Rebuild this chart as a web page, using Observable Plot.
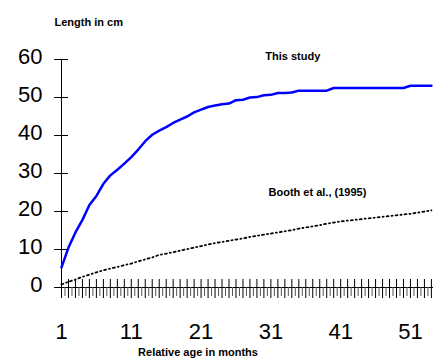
<!DOCTYPE html>
<html>
<head>
<meta charset="utf-8">
<script src="https://cdn.jsdelivr.net/npm/d3@7"></script>
<script src="https://cdn.jsdelivr.net/npm/@observablehq/plot@0.6"></script>
<style>
  html, body { margin: 0; padding: 0; background: #fff; }
  #chart svg { display: block; }
</style>
</head>
<body>
<div id="chart"></div>
<script>
const months = d3.range(1, 55);
const thisStudy = [5.3, 10.5, 14.5, 17.8, 21.7, 24.1, 27.3, 29.5, 31.0, 32.6,
  34.3, 36.3, 38.5, 40.2, 41.3, 42.2, 43.3, 44.2, 45.0, 46.1,
  46.8, 47.5, 47.9, 48.2, 48.4, 49.3, 49.4, 50.0, 50.1, 50.6,
  50.7, 51.2, 51.2, 51.3, 51.8, 51.8, 51.8, 51.8, 51.8, 52.5,
  52.5, 52.5, 52.5, 52.5, 52.5, 52.5, 52.5, 52.5, 52.5, 52.5,
  53.1, 53.1, 53.1, 53.1];
const booth = [0.8, 1.5, 2.1, 2.8, 3.4, 4.0, 4.5, 5.0, 5.4, 5.9,
  6.3, 6.9, 7.4, 7.9, 8.6, 8.9, 9.3, 9.7, 10.1, 10.5,
  10.9, 11.3, 11.7, 12.0, 12.3, 12.6, 12.9, 13.3, 13.6, 13.9,
  14.2, 14.5, 14.8, 15.1, 15.5, 15.8, 16.1, 16.4, 16.8, 17.1,
  17.4, 17.6, 17.8, 18.0, 18.2, 18.4, 18.6, 18.8, 19.0, 19.2,
  19.4, 19.7, 20.0, 20.3];
const yTicks = [0, 10, 20, 30, 40, 50, 60];
const xTickLabels = [1, 11, 21, 31, 41, 51];
const halfMonths = months.map(m => m + 0.5).filter(m => m < 54.3);

const studyData = months.map((m, i) => ({month: m, length: thisStudy[i]}));
const boothData = months.map((m, i) => ({month: m, length: booth[i]}));

const chart = Plot.plot({
  width: 435,
  height: 358,
  marginLeft: 61,
  marginRight: 2,
  marginTop: 59,
  marginBottom: 71,
  style: {fontFamily: "'Liberation Sans', Arial, sans-serif", background: "#fff", color: "#000"},
  x: {domain: [1, 54.3], label: null},
  y: {domain: [0, 60], label: null},
  marks: [
    // y axis line and crossing ticks
    Plot.ruleX([1], {stroke: "#000"}),
    Plot.axisY({ticks: yTicks, tickSize: 14, dx: 7, text: null, label: null, stroke: "#000"}),
    Plot.axisY({ticks: yTicks, tickSize: 0, tickPadding: 19, dy: -3, fontSize: 22, label: null, fill: "#000"}),
    // x axis line and ticks
    Plot.ruleY([0], {stroke: "#000"}),
    Plot.axisX({ticks: months, tickSize: 19, dy: -8, text: null, label: null, stroke: "#000"}),
    Plot.axisX({ticks: halfMonths, tickSize: 9, text: null, label: null, stroke: "#555"}),
    Plot.axisX({ticks: xTickLabels, tickSize: 0, tickPadding: 36, fontSize: 22, label: null, fill: "#000"}),
    // series
    Plot.line(boothData, {x: "month", y: "length", stroke: "#000", strokeWidth: 1.8, strokeDasharray: "2 3 1 3"}),
    Plot.line(studyData, {x: "month", y: "length", stroke: "#0000ff", strokeWidth: 2.5}),
    // annotations
    Plot.text(["This study"], {x: 30.2, y: 60, text: d => d, textAnchor: "start", lineAnchor: "bottom", fontSize: 11, fontWeight: "bold", fill: "#000", letterSpacing: "0.4px"}),
    Plot.text(["Booth et al., (1995)"], {x: 30.66, y: 23.95, text: d => d, textAnchor: "start", lineAnchor: "bottom", fontSize: 11, fontWeight: "bold", fill: "#000", letterSpacing: "0.5px"}),
    // axis titles
    Plot.text(["Length in cm"], {frameAnchor: "top-left", text: d => d, dx: -7, dy: -34, textAnchor: "start", lineAnchor: "bottom", fontSize: 11, fontWeight: "bold", fill: "#000", letterSpacing: "0.5px"}),
    Plot.text(["Relative age in months"], {frameAnchor: "bottom", text: d => d, dx: -49.5, dy: 68, textAnchor: "middle", lineAnchor: "bottom", fontSize: 11, fontWeight: "bold", fill: "#000", letterSpacing: "0.5px"})
  ]
});
document.getElementById("chart").appendChild(chart);
</script>
</body>
</html>
